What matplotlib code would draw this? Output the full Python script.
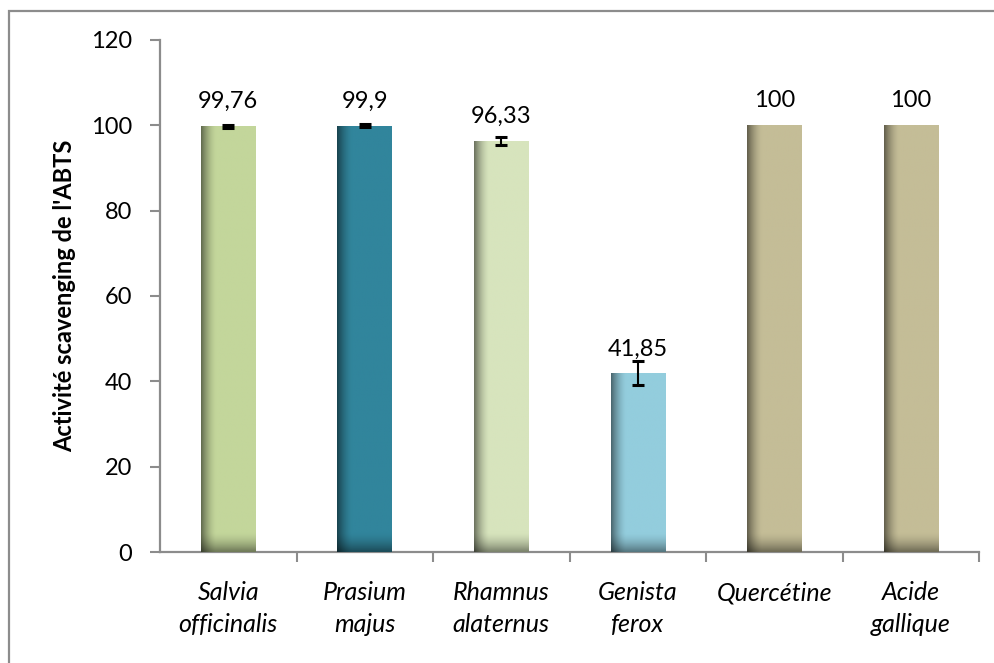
import numpy as np
import matplotlib
matplotlib.use("Agg")
import matplotlib.pyplot as plt
from matplotlib.colors import to_rgb
from matplotlib.patches import Rectangle

categories = ["Salvia\nofficinalis", "Prasium\nmajus", "Rhamnus\nalaternus",
              "Genista\nferox", "Quercétine", "Acide\ngallique"]
values = [99.76, 99.9, 96.33, 41.85, 100, 100]
errors = [0.3, 0.3, 1.0, 2.8, 0, 0]
value_labels = ["99,76", "99,9", "96,33", "41,85", "100", "100"]
colors = ["#C3D69B", "#31859C", "#D7E4BD", "#93CDDD", "#C4BD97", "#C4BD97"]
yticks = [0, 20, 40, 60, 80, 100, 120]

plt.rcParams["font.family"] = ["Lato", "DejaVu Sans"]

fig = plt.figure(figsize=(9.94, 6.63), dpi=100)
ax = fig.add_axes([0.161, 0.1674, 0.824, 0.7723])

# outer chart frame
fig.patches.append(Rectangle((0.0095, -0.05), 1.2, 0.9834 + 0.05,
                             transform=fig.transFigure, fill=False,
                             edgecolor="#8C8C8C", linewidth=1.6))

x = np.arange(len(categories))
bars = ax.bar(x, values, width=0.4, color=colors, zorder=2)

# shading: darker left edge and bottom on each bar
nx, ny = 120, 240
for bar, col in zip(bars, colors):
    bx, bw, bh = bar.get_x(), bar.get_width(), bar.get_height()
    u = np.linspace(0, 1, nx)
    v = np.linspace(0, 1, ny)  # 0 at bottom
    left = np.clip(1 - u / 0.28, 0, 1) ** 1.6
    depth = 4.5 / bh  # shading depth in data units relative to bar height
    bottom = np.clip(1 - v / depth, 0, 1) ** 1.6
    shade = (1 - 0.5 * left[None, :]) * (1 - 0.42 * bottom[:, None])
    rgb = np.array(to_rgb(col))
    img = shade[..., None] * rgb[None, None, :]
    im = ax.imshow(img, extent=(bx, bx + bw, 0, bh), origin="lower",
                   aspect="auto", interpolation="bilinear", zorder=3)
    im.set_clip_path(bar)

# error bars
for xi, v, e in zip(x, values, errors):
    if e > 0:
        ax.errorbar(xi, v, yerr=e, fmt="none", ecolor="black",
                    elinewidth=1.5, capsize=4.5, capthick=2.2, zorder=4)

# value labels
for xi, v, lab in zip(x, values, value_labels):
    ax.annotate(lab, (xi, v), xytext=(0, 13), textcoords="offset points",
                ha="center", va="baseline", fontsize=17, color="black")

ax.set_xlim(-0.5, len(categories) - 0.5)
ax.set_ylim(0, 120)
ax.set_yticks(yticks)
ax.set_yticklabels([str(t) for t in yticks], fontsize=17)

ax.set_xticks(x)
ax.set_xticklabels(categories, fontsize=18, style="italic", linespacing=1.45)
ax.set_xticks(np.arange(0.5, len(categories), 1.0), minor=True)
ax.tick_params(axis="x", which="major", length=0, pad=21)
ax.tick_params(axis="x", which="minor", length=7, width=1.5, color="#8C8C8C",
               direction="out")
ax.tick_params(axis="y", length=7, width=1.5, color="#8C8C8C", direction="out",
               pad=13)

for side in ["top", "right"]:
    ax.spines[side].set_visible(False)
for side in ["left", "bottom"]:
    ax.spines[side].set_color("#8C8C8C")
    ax.spines[side].set_linewidth(1.6)

ax.set_ylabel("Activité scavenging de l'ABTS", fontsize=17, fontweight="bold",
              labelpad=11)

fig.savefig("out.png", dpi=100)
